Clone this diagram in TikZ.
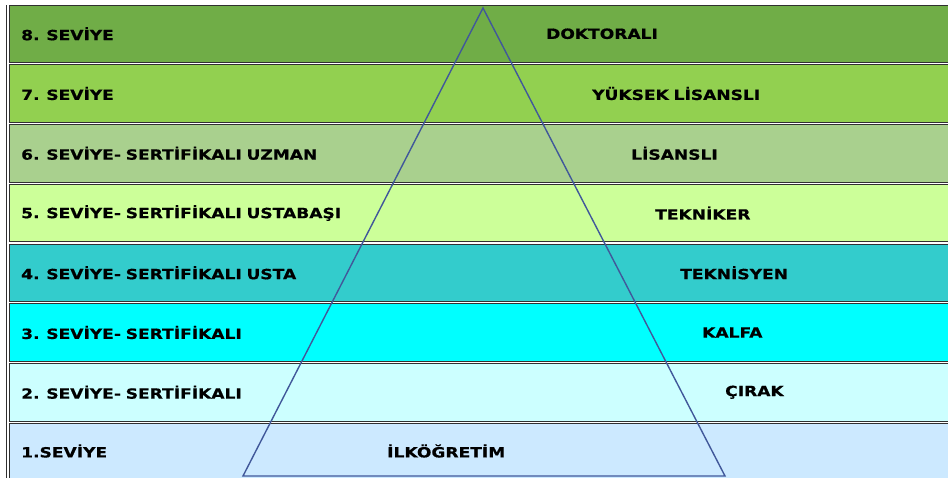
\documentclass[tikz,border=0pt]{standalone}
\usepackage{fontspec}
\setmainfont{DejaVu Sans}[FakeStretch=1.22, WordSpace=0.8, FakeBold=0.6]
\definecolor{c8}{HTML}{70AD47}
\definecolor{c7}{HTML}{92D050}
\definecolor{c6}{HTML}{A9D08E}
\definecolor{c5}{HTML}{CCFF99}
\definecolor{c4}{HTML}{33CCCC}
\definecolor{c3}{HTML}{00FFFF}
\definecolor{c2}{HTML}{CCFFFF}
\definecolor{c1}{HTML}{CCE9FF}
\definecolor{tri}{HTML}{41589A}
\definecolor{edge}{HTML}{303030}
\tikzset{
  band/.style={draw=edge, line width=0.9pt},
  lbl/.style={anchor=west, inner sep=0pt, font=\fontsize{14}{16}\selectfont\bfseries, text=black},
  pyr/.style={draw=tri, line width=1.4pt, line join=miter}
}
\begin{document}
\begin{tikzpicture}[x=1pt,y=-1pt]
\useasboundingbox (0,0) rectangle (948,477);
\clip (0,0) rectangle (948,477);
% bands
\foreach \k/\c in {0/c8,1/c7,2/c6,3/c5,4/c4,5/c3,6/c2}{
  \path[band, fill=\c] (9,{5+59.75*\k}) rectangle (960,{5+59.75*\k+57.5});
}
\path[band, fill=c1] (9,423.25) rectangle (960,490);
\draw[edge, line width=0.9pt] (6,5) -- (6,480);
% left labels
\node[lbl] (l8) at (21,33.75) {8. SEVİYE};
\node[lbl] (l7) at (21,93.5) {7. SEVİYE};
\node[lbl] (l6) at (21,153.25) {6. SEVİYE- SERTİFİKALI UZMAN};
\node[lbl] (l5) at (21,213) {5. SEVİYE- SERTİFİKALI USTABAŞI};
\node[lbl] (l4) at (21,272.75) {4. SEVİYE- SERTİFİKALI USTA};
\node[lbl] (l3) at (21,332.5) {3. SEVİYE- SERTİFİKALI};
\node[lbl] (l2) at (21,392.25) {2. SEVİYE- SERTİFİKALI};
\node[lbl] (l1) at (21,451) {1.SEVİYE};
% right labels
\node[lbl] (r8) at (546,33.75) {DOKTORALI};
\node[lbl] (r7) at (592,93.5) {YÜKSEK LİSANSLI};
\node[lbl] (r6) at (631,153.25) {LİSANSLI};
\node[lbl] (r5) at (655,213) {TEKNİKER};
\node[lbl] (r4) at (680,272.75) {TEKNİSYEN};
\node[lbl] (r3) at (702,332.5) {KALFA};
\node[lbl] (r2) at (725,392.25) {ÇIRAK};
\node[lbl] (r1) at (387,451) {İLKÖĞRETİM};
% pyramid
\coordinate (apex) at (483,8);
\coordinate (bl) at (243,476);
\coordinate (br) at (725,476);
\draw[pyr] (apex) -- (bl) -- (br) -- cycle;
\end{tikzpicture}
\end{document}
